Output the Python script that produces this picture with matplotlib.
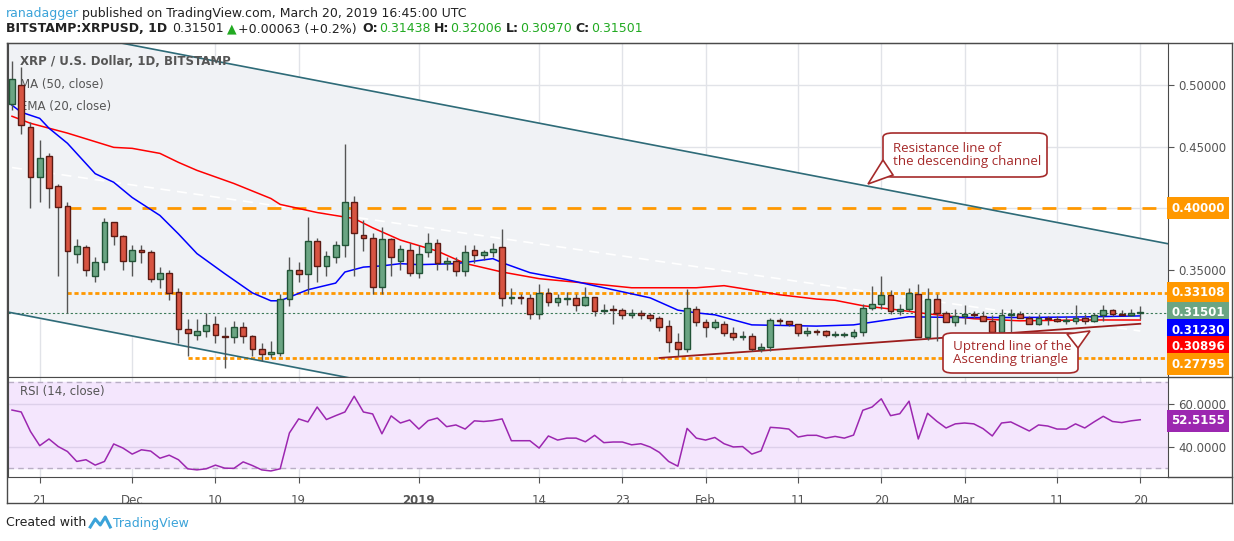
import matplotlib
matplotlib.use("Agg")
import matplotlib.pyplot as plt
import numpy as np
import pandas as pd
from matplotlib.patches import Rectangle, FancyBboxPatch, Polygon

plt.rcParams['font.family'] = ['DejaVu Sans']

dates = pd.date_range(end='2019-03-20', periods=123, freq='D')

opens = [.485,.500,.466,.425,.442,.418,.402,.363,.368,.345,.356,.389,.377,
 .357,.366,.364,.342,.347,.332,.302,.297,.300,.306,.296,.295,.303,.296,.285,.281,.282,.326,.350,.346,.373,.353,.360,.370,.405,.378,.376,.336,.375,.357,.366,
 .347,.364,.372,.355,.357,.349,.366,.362,.364,.368,.327,.328,.327,.314,.331,.324,.326,.327,.321,.328,.316,.317,.317,.313,.315,.313,.311,.304,.291,.285,.318,
 .307,.303,.306,.298,.295,.296,.285,.287,.309,.308,.306,.298,.300,
 .300,.297,.297,.296,.299,.319,.322,.329,.316,.318,.330,.295,.326,.315,.307,
 .312,.314,.312,.308,.299,.313,.314,.311,.306,.311,.310,.308,.308,.311,.308,.313,.317,.314,.313,.31438]
closes = [.505,.468,.425,.441,.416,.401,.365,.369,.350,.356,.389,.377,.357,
 .366,.364,.342,.347,.331,.302,.298,.300,.305,.297,.2955,.303,.296,.285,.281,.283,.326,.350,.346,.373,.353,.361,.370,.405,.380,.376,.336,.375,.360,.367,.347,
 .363,.372,.355,.357,.349,.364,.362,.364,.367,.327,.328,.327,.314,.331,.324,.327,.327,.321,.328,.316,.317,.3168,.313,.315,.313,.311,.303,.291,.285,.319,.307,
 .303,.307,.298,.295,.296,.285,.287,.309,.308,.306,.298,.300,.299,
 .297,.297,.2975,.299,.319,.322,.329,.316,.318,.331,.295,.326,.315,.307,.312,
 .314,.313,.308,.299,.313,.314,.311,.306,.311,.310,.308,.3082,.311,.308,.313,.317,.314,.313,.315,.31501]
highs = [.52,.515,.47,.455,.445,.42,.405,.375,.37,.36,.392,.385,.378,
 .37,.37,.366,.352,.35,.335,.31,.31,.315,.312,.303,.308,.307,.297,.29,.292,.33,.36,.356,.393,.376,.365,.373,.452,.41,.39,.38,.385,.376,.37,.372,
 .37,.38,.375,.36,.36,.37,.37,.366,.372,.383,.335,.33,.33,.338,.335,.33,.332,.33,.336,.328,.322,.321,.319,.318,.317,.315,.312,.309,.298,.334,.32,
 .31,.31,.308,.303,.3,.298,.29,.311,.311,.308,.306,.303,.302,
 .301,.3,.299,.302,.322,.337,.345,.333,.322,.335,.338,.335,.33,.316,.318,
 .321,.316,.316,.313,.318,.318,.316,.312,.314,.312,.312,.312,.321,.314,.315,.321,.318,.317,.318,.32006]
lows = [.48,.46,.40,.405,.40,.345,.315,.355,.345,.34,.35,.37,.35,
 .345,.355,.34,.335,.325,.29,.28,.293,.295,.29,.27,.29,.29,.28,.276,.278,.28,.32,.34,.33,.34,.345,.355,.36,.345,.365,.33,.33,.345,.35,.345,
 .343,.36,.35,.35,.345,.345,.355,.358,.36,.32,.322,.322,.31,.31,.32,.32,.321,.316,.32,.312,.314,.306,.31,.311,.31,.308,.3,.283,.28,.283,.304,
 .295,.302,.296,.293,.293,.284,.283,.284,.305,.304,.296,.296,.297,
 .295,.295,.295,.294,.296,.317,.318,.314,.313,.316,.316,.293,.292,.312,.304,
 .306,.311,.31,.306,.297,.297,.311,.309,.305,.305,.307,.306,.306,.306,.307,.308,.312,.313,.312,.3097]

rsi = [57.0,56.1,47.1,40.5,43.6,40.1,37.8,33.2,34.0,31.5,33.2,41.3,39.4,36.6,38.6,38.0,34.7,36.1,34.0,29.8,29.3,29.8,31.5,30.1,30.0,
 33.0,31.3,29.3,28.8,29.8,46.4,52.9,51.5,58.4,52.6,54.4,56.1,63.4,56.1,55.2,46.0,54.3,51.0,52.4,48.2,52.1,53.3,49.3,50.1,48.2,
 52.0,51.7,52.1,52.9,42.8,42.8,42.8,39.4,45.0,43.1,44.0,44.0,42.3,45.3,41.9,42.2,42.2,40.9,
 41.4,39.9,37.4,33.2,31.0,48.5,44.0,43.1,44.3,41.4,39.9,40.1,36.6,38.1,49.0,48.7,48.2,44.5,45.3,45.3,44.0,44.8,44.0,45.4,
 56.9,58.4,62.2,54.4,55.3,61.1,43.6,55.5,51.8,48.7,50.6,51.0,50.6,48.4,45.0,51.0,51.5,49.4,47.3,50.1,49.6,48.2,48.2,50.6,48.7,
 51.5,54.1,51.7,51.2,52.0,52.5155]

ma50_dates = ['2018-11-18','2018-11-20','2018-11-24','2018-11-29','2018-12-01','2018-12-04','2018-12-06','2018-12-08','2018-12-12',
 '2018-12-16','2018-12-17','2018-12-21','2018-12-25','2018-12-27','2018-12-30','2019-01-03','2019-01-06','2019-01-10','2019-01-14',
 '2019-01-19','2019-01-24','2019-01-31','2019-02-03','2019-02-05','2019-02-09','2019-02-13','2019-02-15','2019-02-18','2019-02-22',
 '2019-02-25','2019-03-02','2019-03-07','2019-03-14','2019-03-20']
ma50_vals = [.4747,.4690,.4610,.4494,.4486,.4445,.4372,.4307,.4200,.4078,.4030,.3964,.3915,.3840,.3740,.3650,.3550,.3480,.3426,
 .3390,.3352,.3352,.3369,.3345,.3295,.3260,.3250,.3206,.3170,.3140,.3100,.3083,.3090,.30896]
ema20_dates = ['2018-11-18','2018-11-19','2018-11-21','2018-11-22','2018-11-24','2018-11-27','2018-11-29','2018-12-01','2018-12-04',
 '2018-12-06','2018-12-08','2018-12-11','2018-12-14','2018-12-16','2018-12-17','2018-12-20','2018-12-23','2018-12-24','2018-12-26',
 '2018-12-28','2018-12-30','2019-01-01','2019-01-05','2019-01-09','2019-01-10','2019-01-13','2019-01-17','2019-01-21','2019-01-26',
 '2019-01-29','2019-01-31','2019-02-02','2019-02-06','2019-02-13','2019-02-17','2019-02-20','2019-02-23','2019-02-28','2019-03-07',
 '2019-03-14','2019-03-20']
ema20_vals = [.4837,.4780,.4730,.4650,.4527,.4280,.4210,.4086,.3940,.3790,.3630,.3467,.3310,.3246,.3246,.3336,.3390,.3480,.3520,
 .3530,.3548,.3540,.3548,.3589,.3556,.3475,.3418,.3352,.3270,.3170,.3148,.3132,.3050,.3040,.3050,.3083,.3116,.3110,.3110,
 .3115,.3123]

res_line_dates = ['2018-11-30', '2019-03-23']
res_line_vals = [0.534, 0.371]
sup_line_dates = ['2018-11-18', '2018-12-24']
sup_line_vals = [0.3148, 0.2626]
up_line_dates = ['2019-01-27', '2019-03-20']
up_line_vals = [0.2781, 0.3059]
old_line_dates = ['2018-11-18', '2019-03-20']
old_line_vals = [0.433, 0.300]

level_400 = 0.40
level_331 = 0.33108
level_278 = 0.27795
last_price = 0.31501

xtick_dates = ['2018-11-21','2018-12-01','2018-12-10','2018-12-19','2019-01-01','2019-01-14','2019-01-23','2019-02-01',
               '2019-02-11','2019-02-20','2019-03-01','2019-03-11','2019-03-20']
xtick_labels = ['21','Dec','10','19','2019','14','23','Feb','11','20','Mar','11','20']

t0 = dates[0]
def idx(d):
    return (pd.Timestamp(d) - t0).days

W, H = 1234, 541
fig = plt.figure(figsize=(W/100, H/100), dpi=100)
fig.patch.set_facecolor('white')
def fr(x0, y0, x1, y1):
    return [x0/W, 1-y1/H, (x1-x0)/W, (y1-y0)/H]

ax = fig.add_axes(fr(8, 43, 1168, 377))
axr = fig.add_axes(fr(8, 377, 1168, 477), sharex=ax)

UP, UPE = '#6ba583', '#225437'
DN, DNE = '#d75442', '#5b1a13'
GRID = '#e1e3e8'
ORANGE = '#ff9800'

x = np.arange(len(closes))
xlim = (-0.43, 125.0)
ax.set_xlim(*xlim)
ax.set_ylim(0.2626, 0.5343)
axr.set_ylim(26.0, 72.3)

xt = [idx(d) for d in xtick_dates]
for a in (ax, axr):
    for v in xt:
        a.axvline(v, color=GRID, lw=1, zorder=0)
for v in [0.35, 0.40, 0.45, 0.50]:
    ax.axhline(v, color=GRID, lw=1, zorder=0)

xr = np.array([idx(d) for d in res_line_dates], float)
xs = np.array([idx(d) for d in sup_line_dates], float)
kr = (res_line_vals[1]-res_line_vals[0])/(xr[1]-xr[0])
ks = (sup_line_vals[1]-sup_line_vals[0])/(xs[1]-xs[0])
xx = np.array([xlim[0], xlim[1]])
ax.fill_between(xx, res_line_vals[0]+kr*(xx-xr[0]), sup_line_vals[0]+ks*(xx-xs[0]),
                color='#f0f2f5', zorder=0.5)
ax.plot(xx, res_line_vals[0]+kr*(xx-xr[0]), color='#2e6b78', lw=1.2, zorder=2)
ax.plot(xx, sup_line_vals[0]+ks*(xx-xs[0]), color='#2e6b78', lw=1.2, zorder=2)
ax.plot([idx(d) for d in old_line_dates], old_line_vals, color='white', lw=1.2, ls=(0, (6, 4)), zorder=1)

ax.plot([idx('2018-11-24'), xlim[1]], [level_400]*2, color=ORANGE, lw=2, ls=(0, (5, 4)), zorder=1)
ax.plot([idx('2018-11-24'), xlim[1]], [level_331]*2, color=ORANGE, lw=2, ls=(0, (1.5, 1)), zorder=1)
ax.plot([idx('2018-12-07'), xlim[1]], [level_278]*2, color=ORANGE, lw=2, ls=(0, (1.5, 1)), zorder=1)
ax.axhline(last_price, color='#3c7a58', lw=0.8, ls=(0, (2, 2)), zorder=1)

ax.plot([idx(d) for d in ma50_dates], ma50_vals, color='#ff0000', lw=1.1, zorder=3)
ax.plot([idx(d) for d in ema20_dates], ema20_vals, color='#0000ff', lw=1.1, zorder=3)
ax.plot([idx(d) for d in up_line_dates], up_line_vals, color='#9b1c1c', lw=1.3, zorder=3)

bw = 0.62
for i, (o, h, l, c) in enumerate(zip(opens, highs, lows, closes)):
    up = c >= o
    fc, ec = (UP, UPE) if up else (DN, DNE)
    ax.vlines(i, min(l, o, c), max(h, o, c), color='#555555', lw=1, zorder=4)
    bot, top = min(o, c), max(o, c)
    ax.add_patch(Rectangle((i-bw/2, bot), bw, max(top-bot, 0.0008), facecolor=fc, edgecolor=ec, lw=1, zorder=5))

axr.axhspan(30, 70, color='#f4e6fd', zorder=0)
for v in (40, 60):
    axr.axhline(v, color='#ddd0ea', lw=1, zorder=0.5)
for v in (30, 70):
    axr.axhline(v, color='#b9aec5', lw=1, ls=(0, (4, 3)), zorder=0.6)
axr.plot(x[:len(rsi)], rsi, color='#9c27b0', lw=1.1, zorder=3)

for a in (ax, axr):
    a.tick_params(left=False, labelleft=False, right=True, labelright=True, direction='out',
                  colors='#555555', labelsize=8.5, length=4)
    for s in a.spines.values():
        s.set_color('#4a4a4a')
ax.tick_params(bottom=False, labelbottom=False)
ax.set_yticks([0.35, 0.40, 0.45, 0.50])
ax.set_yticklabels(['0.35000', '', '0.45000', '0.50000'])
axr.set_yticks([40, 60])
axr.set_yticklabels(['40.0000', '60.0000'])
axr.set_xticks(xt)
axr.set_xticklabels(xtick_labels)
axr.tick_params(axis='x', colors='#555555', labelsize=8.5, length=4, pad=8)
for lab in axr.get_xticklabels():
    if lab.get_text() == '2019':
        lab.set_fontweight('bold')

def pbox(py, txt, color, tcol='white'):
    fig.text(1171/W, 1-py/H, txt, ha='left', va='center', fontsize=8.5, color=tcol, fontweight='bold',
             bbox=dict(boxstyle='square,pad=0.35', fc=color, ec='none'))
pbox(208, '0.40000', ORANGE)
pbox(293, '0.33108', ORANGE)
pbox(313, '0.31501', UP)
pbox(330, '0.31230', '#0000ff')
pbox(347, '0.30896', '#ff0000')
pbox(364, '0.27795', ORANGE)
pbox(421, '52.5155', '#9c27b0')

for seg in [([7, 7], [43, 503]), ([1232, 1232], [43, 503]), ([7, 1232], [503, 503]), ([7, 1232], [43, 43]),
            ([1168, 1232], [377, 377]), ([1168, 1232], [477, 477])]:
    fig.add_artist(plt.Line2D([v/W for v in seg[0]], [1-v/H for v in seg[1]], color='#4a4a4a', lw=1))

renderer = fig.canvas.get_renderer()
def seq(x0, py, parts, fs=9):
    xp = x0
    for txt, col, wt, gap in parts:
        t = fig.text(xp/W, 1-py/H, txt, color=col, fontsize=fs, va='center', fontweight=wt)
        bb = t.get_window_extent(renderer=renderer)
        xp += bb.width + gap
    return xp
seq(6, 13, [('ranadagger', '#3ba3d9', 'normal', 3),
            ('published on TradingView.com, March 20, 2019 16:45:00 UTC', '#222222', 'normal', 0)])
G = '#22aa22'
seq(6, 29, [('BITSTAMP:XRPUSD, 1D', '#222222', 'bold', 5), ('0.31501', '#222222', 'normal', 3),
            ('▲', G, 'normal', 2), ('+0.00063 (+0.2%)', '#222222', 'normal', 5),
            ('O:', '#222222', 'bold', 1), ('0.31438', G, 'normal', 4),
            ('H:', '#222222', 'bold', 1), ('0.32006', G, 'normal', 4),
            ('L:', '#222222', 'bold', 1), ('0.30970', G, 'normal', 4),
            ('C:', '#222222', 'bold', 1), ('0.31501', G, 'normal', 0)])
xe = seq(6, 523, [('Created with', '#222222', 'normal', 0)])
lx = xe + 4
fig.add_artist(plt.Line2D([(lx+d)/W for d in [0, 5, 10, 15, 20]], [1-y_/H for y_ in [527, 519, 525, 517, 527]],
                          color='#3ba3d9', lw=2.2))
fig.text((lx+23)/W, 1-523/H, 'TradingView', color='#3ba3d9', fontsize=9, va='center')

ax.text(0.01, 0.945, 'XRP / U.S. Dollar, 1D, BITSTAMP', transform=ax.transAxes, fontsize=8.5, color='#555555', fontweight='bold', va='center')
ax.text(0.01, 0.875, 'MA (50, close)', transform=ax.transAxes, fontsize=8.5, color='#555555', va='center')
ax.text(0.01, 0.81, 'EMA (20, close)', transform=ax.transAxes, fontsize=8.5, color='#555555', va='center')
axr.text(0.01, 0.86, 'RSI (14, close)', transform=axr.transAxes, fontsize=8.5, color='#555555', va='center')

def callout(x0, y0, x1, y1, tail, lines):
    box = FancyBboxPatch((x0/W, 1-y1/H), (x1-x0)/W, (y1-y0)/H, boxstyle='round,pad=0,rounding_size=0.008',
                         transform=fig.transFigure, fc='white', ec='#a52a2a', lw=1.2, zorder=10)
    fig.add_artist(box)
    tri = Polygon([(p[0]/W, 1-p[1]/H) for p in tail], closed=True, transform=fig.transFigure,
                  fc='white', ec='#a52a2a', lw=1.2, zorder=11)
    fig.add_artist(tri)
    fig.text((x0+10)/W, 1-(y0+(y1-y0)/2)/H, lines, color='#a52a2a', fontsize=9.6, va='center', ha='left',
             linespacing=0.95, zorder=12, family='Open Sans')
callout(883, 133, 1047, 177, [(883, 160), (868, 184), (893, 175)], 'Resistance line of\nthe descending channel')
callout(943, 333, 1078, 373, [(1067, 334), (1090, 331), (1078, 348)], 'Uptrend line of the\nAscending triangle')

fig.savefig('out.png', dpi=100)
